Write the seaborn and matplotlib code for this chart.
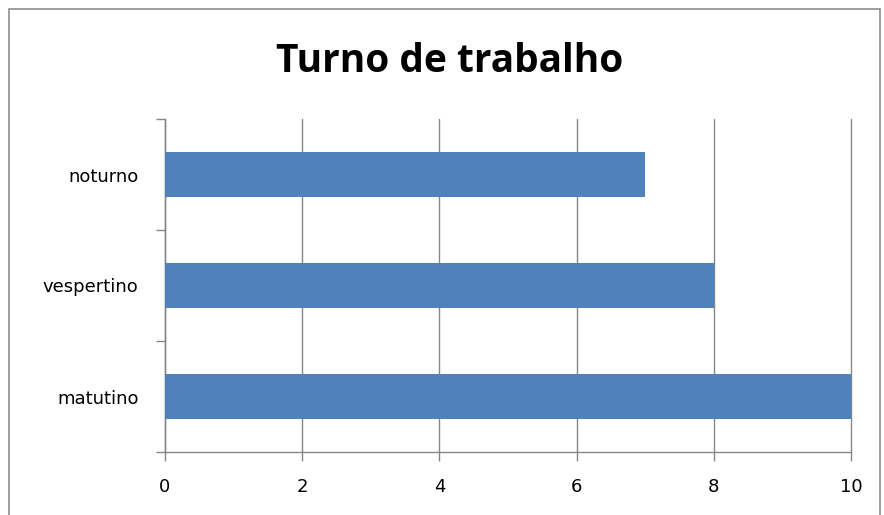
import matplotlib
matplotlib.use("Agg")
import matplotlib.pyplot as plt
import seaborn as sns
import pandas as pd
from matplotlib.patches import Rectangle

turnos = ["noturno", "vespertino", "matutino"]
valores = [7, 8, 10]
x_ticks = [0, 2, 4, 6, 8, 10]

sns.set_style("white")
plt.rcParams['font.family'] = ['DejaVu Sans']

grid_col = "#868686"
bar_col = "#4F81BD"

df = pd.DataFrame({"turno": turnos, "valor": valores})

fig = plt.figure(figsize=(8.84, 5.15), dpi=100)
ax = fig.add_axes([165 / 884, 1 - 452 / 515, (851 - 165) / 884, (452 - 119) / 515])

sns.barplot(data=df, x="valor", y="turno", order=turnos, color=bar_col,
            saturation=1, width=0.4, linewidth=0, ax=ax, zorder=3)

ax.set_xlim(0, 10)
ax.set_ylim(2.5, -0.5)
ax.set_xticks(x_ticks)
ax.set_xticklabels([str(v) for v in x_ticks], fontsize=13, color="black")
ax.set_yticks(range(len(turnos)))
ax.set_yticklabels(turnos, fontsize=13, color="black")
ax.set_yticks([-0.5, 0.5, 1.5, 2.5], minor=True)
ax.tick_params(axis="y", which="major", left=False, length=0, pad=19)
ax.tick_params(axis="y", which="minor", left=True, length=6.5, width=1,
               color=grid_col, direction="out")
ax.tick_params(axis="x", which="major", bottom=True, length=6.5, width=1,
               color=grid_col, direction="out", pad=12)
ax.set_xlabel("")
ax.set_ylabel("")

ax.grid(axis="x", color=grid_col, linewidth=1)
for gl in ax.get_xgridlines():
    gl.set_clip_on(False)
ax.set_axisbelow(True)
for s in ["top", "right"]:
    ax.spines[s].set_visible(False)
for s in ["left", "bottom"]:
    ax.spines[s].set_color(grid_col)
    ax.spines[s].set_linewidth(1)

fig.text(450 / 884, 1 - 72 / 515, "Turno de trabalho", ha="center", va="baseline",
         fontsize=28, fontweight="bold", color="black", family="Open Sans")

fig.patches.append(Rectangle((8.5 / 884, -0.05), (880 - 8.5) / 884, 1.05 - 8.5 / 515,
                             transform=fig.transFigure, fill=False,
                             edgecolor="#8c8c8c", linewidth=1.2))

fig.savefig("out.png", dpi=100)
